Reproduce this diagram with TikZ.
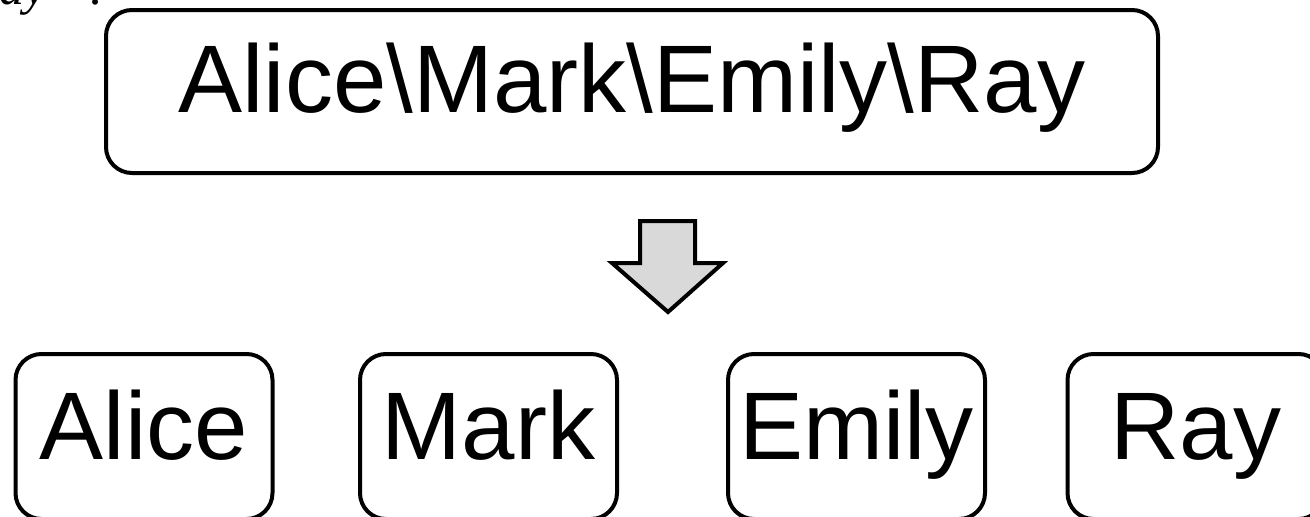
\documentclass[tikz,border=0pt]{standalone}
\usepackage{fontspec}
\setmainfont{Liberation Sans}
\newfontfamily\citefont{Liberation Serif}
\definecolor{arrowgray}{HTML}{D9D9D9}
\tikzset{
  namebox/.style={draw=black, line width=4pt, rounded corners=26pt, inner sep=0pt, outer sep=0pt,
    font=\fontsize{96}{96}\selectfont, text height=105pt, text depth=60pt, minimum width=257pt},
  topbox/.style={namebox, text height=102pt, text depth=61pt, minimum width=1052pt},
  blockarrow/.style={draw=black, line width=4pt, fill=arrowgray, line join=miter},
  citetext/.style={font=\citefont\itshape\fontsize{50}{50}\selectfont, inner sep=0pt, anchor=base west}
}
\begin{document}
\begin{tikzpicture}[x=1pt,y=-1pt]
\useasboundingbox (0,0) rectangle (1310,517);
\node[citetext] (cite) at (-31,4) {Ray\hspace{44pt}.};
\node[topbox, anchor=base] (all) at (632,112) {Alice\textbackslash Mark\textbackslash Emily\textbackslash Ray};
\draw[blockarrow] (640,221) -- (695,221) -- (695,263) -- (723,263) -- (668,312) -- (612,263) -- (640,263) -- cycle;
\node[namebox, anchor=base] (alice) at (144,459) {Alice};
\node[namebox, anchor=base] (mark) at (488.5,459) {Mark};
\node[namebox, anchor=base] (emily) at (856.5,459) {Emily};
\node[namebox, anchor=base] (ray) at (1196,459) {Ray};
\end{tikzpicture}
\end{document}
